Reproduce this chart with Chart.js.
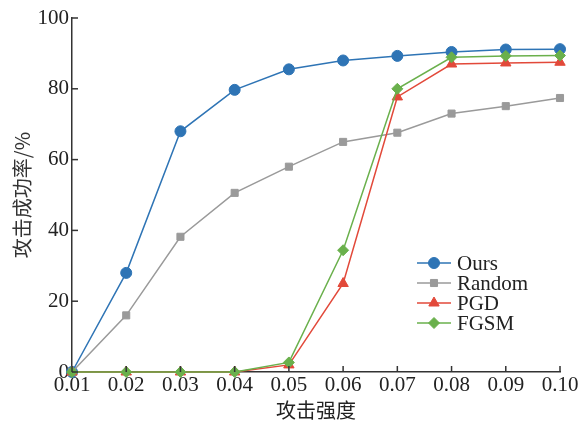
<!DOCTYPE html>
<html>
<head>
<meta charset="utf-8">
<script src="https://cdn.jsdelivr.net/npm/chart.js@4"></script>
<style>
html,body{margin:0;padding:0;background:#fff;}
#wrap{width:581px;height:429px;position:relative;}
</style>
</head>
<body>
<div id="wrap"><canvas id="c"></canvas></div>
<script>
const categories = ['0.01','0.02','0.03','0.04','0.05','0.06','0.07','0.08','0.09','0.10'];
const ours   = [0, 28, 68, 79.7, 85.5, 88, 89.3, 90.4, 91.1, 91.2];
const random = [0, 16, 38.2, 50.6, 58, 65, 67.6, 73, 75.1, 77.4];
const pgd    = [0, 0, 0, 0, 2, 25, 77.7, 87, 87.3, 87.5];
const fgsm   = [0, 0, 0, 0, 2.7, 34.4, 80, 88.9, 89.3, 89.4];
const yTicks = [0, 20, 40, 60, 80, 100];
const xTitle = '攻击强度';
const yTitle = '攻击成功率/%';

const SERIF = '"Liberation Serif","Times New Roman",serif';
const CJK = '"Noto Sans CJK SC",sans-serif';

function ds(label, data, color, style, radius, order){
  return {label, data, borderColor: color, backgroundColor: color,
    pointStyle: style, pointRadius: radius, pointHoverRadius: radius,
    pointBorderColor: color, pointBackgroundColor: color, pointBorderWidth: 1,
    borderWidth: 1.5, tension: 0, clip: false, order};
}

const inwardTicks = {
  id: 'inwardTicks',
  afterDraw(chart){
    const ctx = chart.ctx, x = chart.scales.x, y = chart.scales.y, a = chart.chartArea;
    ctx.save();
    ctx.strokeStyle = '#333'; ctx.lineWidth = 1.5;
    x.ticks.forEach((t,i)=>{ const px = x.getPixelForTick(i);
      ctx.beginPath(); ctx.moveTo(px, a.bottom); ctx.lineTo(px, a.bottom-6); ctx.stroke(); });
    y.ticks.forEach((t,i)=>{ const py = y.getPixelForTick(i);
      ctx.beginPath(); ctx.moveTo(a.left, py); ctx.lineTo(a.left+6, py); ctx.stroke(); });
    ctx.restore();
  }
};

const customLegend = {
  id: 'customLegend',
  afterDraw(chart){
    const ctx = chart.ctx;
    const x0 = 417, x1 = 451, tx = 457; let yy = 263;
    ctx.save();
    chart.data.datasets.forEach(d=>{
      ctx.strokeStyle = d.borderColor; ctx.fillStyle = d.borderColor; ctx.lineWidth = 1.5;
      ctx.beginPath(); ctx.moveTo(x0, yy); ctx.lineTo(x1, yy); ctx.stroke();
      ctx.lineWidth = 1;
      Chart.helpers.drawPoint(ctx, {pointStyle: d.pointStyle, radius: d.pointRadius, borderWidth: 1, rotation: 0}, (x0+x1)/2, yy);
      ctx.fillStyle = '#222'; ctx.font = '21px ' + SERIF;
      ctx.textBaseline = 'middle'; ctx.textAlign = 'left';
      ctx.fillText(d.label, tx, yy+1);
      yy += 20;
    });
    ctx.restore();
  }
};

new Chart(document.getElementById('c'), {
  type: 'line',
  data: {
    labels: categories,
    datasets: [
      ds('Ours', ours, '#2e74b5', 'circle', 5.5, 4),
      ds('Random', random, '#9a9a9a', 'rect', 5, 3),
      ds('PGD', pgd, '#e2493a', 'triangle', 6, 2),
      ds('FGSM', fgsm, '#6ab04c', 'rectRot', 5.5, 1)
    ]
  },
  options: {
    responsive: true, maintainAspectRatio: false, animation: false,
    layout: {padding: {left: 0, right: 21, top: 18, bottom: 7}},
    plugins: {legend: {display: false}, tooltip: {enabled: false}},
    scales: {
      x: {
        type: 'category', offset: false,
        grid: {display: true, drawOnChartArea: false, drawTicks: false},
        border: {color: '#333', width: 1.5},
        ticks: {color: '#222', font: {family: SERIF, size: 21}, padding: 1, maxRotation: 0, autoSkip: false},
        title: {display: true, text: xTitle, color: '#222', font: {family: CJK, size: 20}, padding: {top: 0, bottom: 0}},
        afterFit(s){ s.height = 50; }
      },
      y: {
        min: 0, max: 100,
        afterBuildTicks(s){ s.ticks = yTicks.map(v=>({value:v})); },
        grid: {display: true, drawOnChartArea: false, drawTicks: false},
        border: {color: '#333', width: 1.5},
        ticks: {color: '#222', font: {family: SERIF, size: 21}, padding: 3},
        title: {display: true, text: yTitle, color: '#333', font: {family: CJK, size: 20}, padding: {top: 10, bottom: 0}},
        afterFit(s){ s.width = 72; }
      }
    }
  },
  plugins: [inwardTicks, customLegend]
});
</script>
</body>
</html>
